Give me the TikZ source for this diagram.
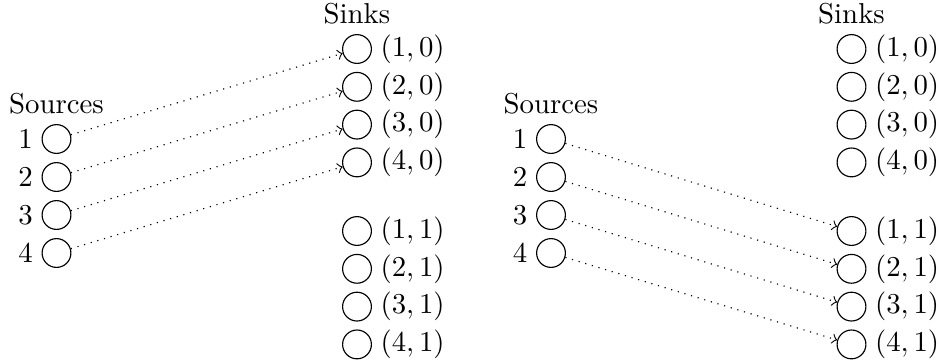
\documentclass[tikz,border=0pt]{standalone}
\begin{document}
\begin{tikzpicture}[x=0.3472pt,y=-0.3472pt,
  vtx/.style={draw,circle,minimum size=10pt,inner sep=0pt},
  lbl/.style={inner sep=2.8pt},
  flow/.style={dotted,->}]
\useasboundingbox (0,0) rectangle (939,362);
\foreach \p/\dx in {L/0,R/494.5}{
  % sources
  \foreach \i/\y in {1/139,2/177,3/215,4/253}{
    \node[vtx] (\p s\i) at (56.5+\dx,\y) {};
    \node[lbl,anchor=east] (\p sl\i) at (\p s\i.west) {$\i$};
  }
  \node[lbl,anchor=south,inner sep=3.33pt] (\p src) at (\p s1.north) {Sources};
  % sinks
  \foreach \i/\y in {1/49,2/86.8,3/124.6,4/162.4}{
    \node[vtx] (\p a\i) at (357+\dx,\y) {};
    \node[lbl,anchor=west] (\p al\i) at (\p a\i.east) {$(\i,0)$};
  }
  \foreach \i/\y in {1/231,2/268.8,3/306.6,4/344.4}{
    \node[vtx] (\p b\i) at (357+\dx,\y) {};
    \node[lbl,anchor=west] (\p bl\i) at (\p b\i.east) {$(\i,1)$};
  }
  \node[lbl,anchor=south,inner sep=3.33pt] (\p snk) at (\p a1.north) {Sinks};
}
\foreach \i in {1,2,3,4}{
  \draw[flow] (Ls\i) -- (La\i);
  \draw[flow] (Rs\i) -- (Rb\i);
}
\end{tikzpicture}
\end{document}
